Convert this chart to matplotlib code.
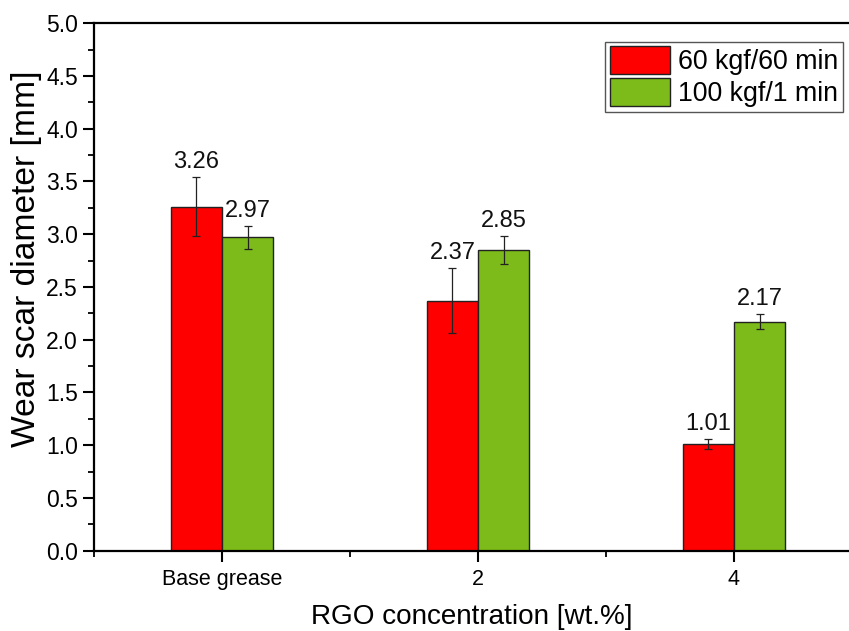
import matplotlib
matplotlib.use("Agg")
import matplotlib.pyplot as plt
import numpy as np
from matplotlib.ticker import MultipleLocator, FixedLocator

plt.rcParams['font.family'] = ['Liberation Sans', 'DejaVu Sans']

categories = ["Base grease", "2", "4"]
series_names = ["60 kgf/60 min", "100 kgf/1 min"]
vals_60 = [3.26, 2.37, 1.01]
vals_100 = [2.97, 2.85, 2.17]
err_60 = [0.28, 0.31, 0.05]
err_100 = [0.11, 0.13, 0.07]
colors = ["#FF0000", "#7CBB19"]

fig = plt.figure(figsize=(8.49, 6.31), dpi=100)
ax = fig.add_axes([0.1107, 0.1273, 0.9046, 0.836])

x = np.arange(len(categories))
w = 0.2
for i, (vals, errs) in enumerate([(vals_60, err_60), (vals_100, err_100)]):
    xs = x + (i - 0.5) * w
    ax.bar(xs, vals, width=w, color=colors[i], edgecolor="#222222", linewidth=1.0,
           label=series_names[i], zorder=2)
    ax.errorbar(xs, vals, yerr=errs, fmt='none', ecolor='#222222', elinewidth=0.9,
                capsize=3, capthick=0.9, zorder=3)
    for xi, v, e in zip(xs, vals, errs):
        ax.annotate(f"{v:.2f}", xy=(xi, v + e), xytext=(0, 3), textcoords='offset points',
                    ha='center', va='bottom', fontsize=17, color='#111111')

ax.set_xlim(-0.5, 2.5)
ax.set_ylim(0, 5.0)
ax.set_xticks(x)
ax.set_xticklabels(categories, fontsize=15.5)
ax.xaxis.set_minor_locator(FixedLocator([-0.5, 0.5, 1.5]))
ax.yaxis.set_major_locator(MultipleLocator(0.5))
ax.yaxis.set_minor_locator(MultipleLocator(0.25))
ax.set_yticklabels([f"{t:.1f}" for t in ax.get_yticks()], fontsize=16.5)

ax.tick_params(axis='both', which='major', direction='out', length=8, width=1.5, pad=3.5)
ax.tick_params(axis='y', which='minor', direction='out', length=4, width=1.3)
ax.tick_params(axis='x', which='minor', direction='out', length=4.5, width=1.3)
ax.tick_params(axis='x', which='major', pad=5)

for s in ['left', 'bottom', 'top']:
    ax.spines[s].set_linewidth(1.6)
ax.spines['right'].set_visible(False)

ax.set_ylabel("Wear scar diameter [mm]", fontsize=24.2)
ax.yaxis.set_label_coords(-0.0885, 0.554)
ax.yaxis.label.set_va('center')

ax.set_xlabel("RGO concentration [wt.%]", fontsize=20.1)
ax.xaxis.set_label_coords(0.492, -0.139)
ax.xaxis.label.set_va('baseline')

leg = ax.legend(loc='upper left', bbox_to_anchor=(0.6654, 0.965), fontsize=19.3,
                handlelength=2.25, handleheight=1.22, labelspacing=0.12,
                handletextpad=0.3, borderpad=0.17, borderaxespad=0.0,
                fancybox=False, framealpha=1, edgecolor='#555555')
leg.get_frame().set_linewidth(1.0)

fig.savefig("out.png", dpi=100)
